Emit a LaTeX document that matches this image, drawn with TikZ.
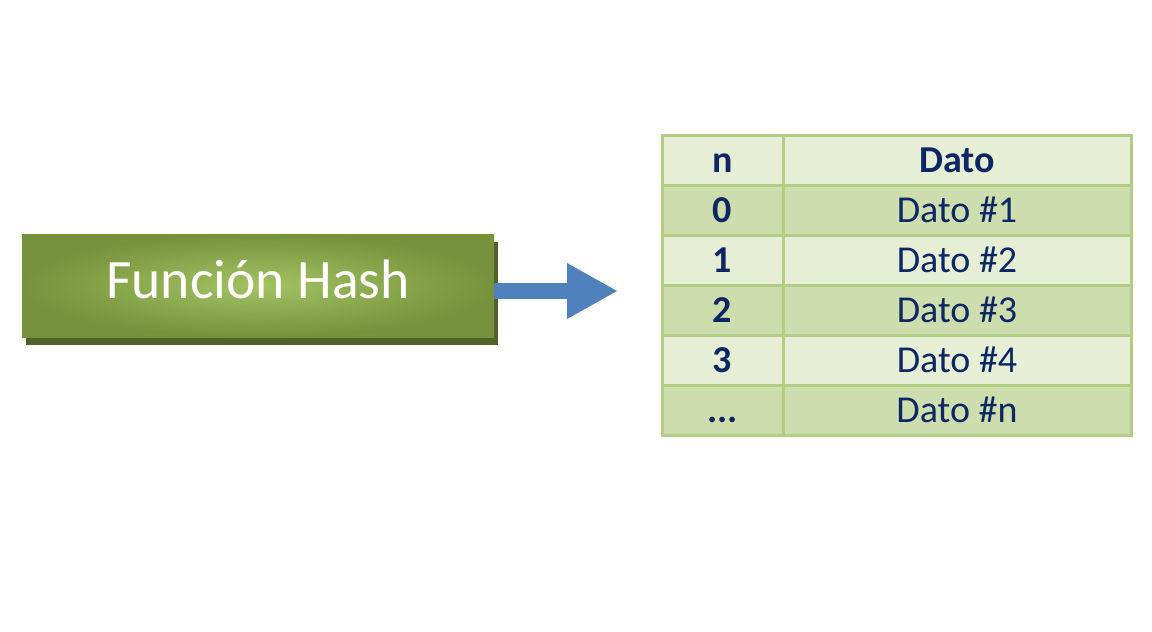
\documentclass[tikz,border=0pt]{standalone}
\usepackage{fontspec}
\setmainfont{Carlito}
\usepackage{tikz}
\usetikzlibrary{arrows.meta,shadows,positioning}

\definecolor{olivedark}{HTML}{76923C}
\definecolor{olivelight}{HTML}{A2C262}
\definecolor{oliveshadow}{HTML}{4F6228}
\definecolor{arrowblue}{HTML}{4F81BD}
\definecolor{rowlight}{HTML}{E6EED6}
\definecolor{rowdark}{HTML}{CEDDAE}
\definecolor{tableline}{HTML}{B4CD84}
\definecolor{navy}{HTML}{0C2763}

\begin{document}
\begin{tikzpicture}[x=0.5pt,y=-0.5pt,
  hashbox/.style={rectangle, minimum width=236pt, minimum height=51.5pt,
    inner color=olivelight, outer color=olivedark, text=white,
    text height=17.5pt, text depth=5pt,
    font=\fontsize{27.8}{32}\selectfont,
    drop shadow={shadow xshift=2pt, shadow yshift=-4pt, fill=oliveshadow, opacity=1}},
  cell/.style={rectangle, draw=tableline, line width=1.5pt, outer sep=0pt,
    minimum height=25pt, text=navy, text height=12pt, text depth=0pt,
    font=\fontsize{19}{23}\selectfont},
  ncell/.style={cell, minimum width=60.5pt, font=\fontsize{19}{23}\selectfont\bfseries},
  dcell/.style={cell, minimum width=174pt},
  light/.style={fill=rowlight},
  dark/.style={fill=rowdark}]

\useasboundingbox (0,0) rectangle (1152,632);

\node[hashbox] (hash) at (258,285.5) {Función Hash};

\node[ncell,light] (n) at (722.5,160) {n};
\node[dcell,light,font=\fontsize{19}{23}\selectfont\bfseries] (dato) at (957,160) {Dato};
\node[ncell,dark] (n0) at (722.5,210) {0};
\node[dcell,dark] (d0) at (957,210) {Dato \#1};
\node[ncell,light] (n1) at (722.5,260) {1};
\node[dcell,light] (d1) at (957,260) {Dato \#2};
\node[ncell,dark] (n2) at (722.5,310) {2};
\node[dcell,dark] (d2) at (957,310) {Dato \#3};
\node[ncell,light] (n3) at (722.5,360) {3};
\node[dcell,light] (d3) at (957,360) {Dato \#4};
\node[ncell,dark] (nn) at (722.5,410) {...};
\node[dcell,dark] (dn) at (957,410) {Dato \#n};

\coordinate (tip) at (618,291);
\draw[arrowblue, line width=8pt, -{Triangle[length=25.5pt,width=26pt]}] (hash.east |- tip) -- (tip);

\end{tikzpicture}
\end{document}
